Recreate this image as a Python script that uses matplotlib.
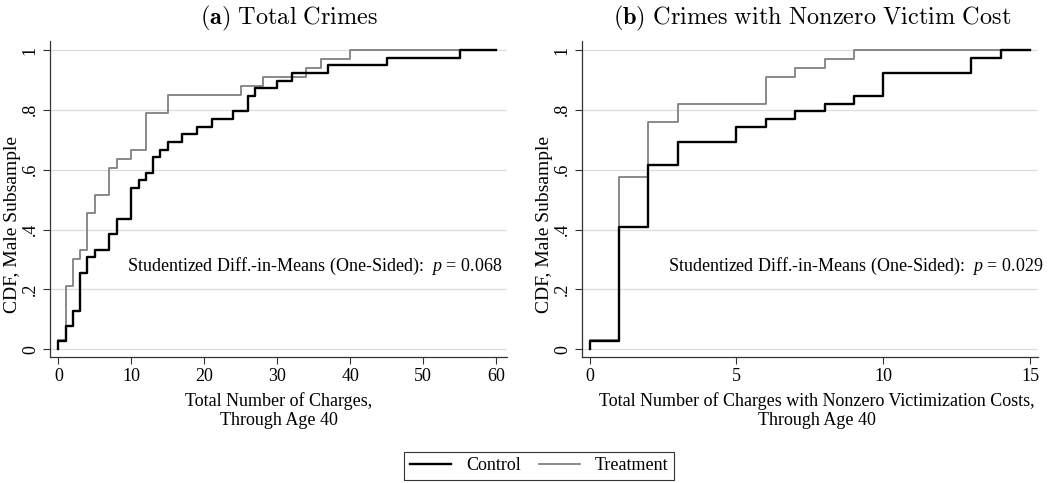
import numpy as np
import matplotlib.pyplot as plt
from matplotlib.lines import Line2D

plt.rcParams['font.family'] = ['Liberation Serif', 'DejaVu Serif']
plt.rcParams['mathtext.fontset'] = 'custom'
plt.rcParams['mathtext.rm'] = 'Liberation Serif'
plt.rcParams['mathtext.it'] = 'Liberation Serif:italic'

# panel (a): total crimes
ctrl_a_x = [0, 1, 2, 3, 4, 5, 7, 8, 10, 11, 12, 13, 14, 15, 17, 19, 21, 24, 26, 27, 30, 32, 37, 45, 55]
ctrl_a_cdf = [.026, .077, .128, .256, .308, .333, .385, .436, .538, .564, .590, .641, .667, .692,
              .718, .744, .769, .795, .846, .872, .897, .923, .949, .974, 1.0]
treat_a_x = [0, 1, 2, 3, 4, 5, 7, 8, 10, 12, 15, 25, 28, 34, 36, 40]
treat_a_cdf = [.030, .212, .303, .333, .455, .515, .606, .636, .667, .788, .848, .879, .909, .939, .970, 1.0]

# panel (b): crimes with nonzero victim cost
ctrl_b_x = [0, 1, 2, 3, 5, 6, 7, 8, 9, 10, 13, 14]
ctrl_b_cdf = [.026, .410, .615, .692, .744, .769, .795, .821, .846, .923, .974, 1.0]
treat_b_x = [0, 1, 2, 3, 6, 7, 8, 9]
treat_b_cdf = [.030, .576, .758, .818, .909, .939, .970, 1.0]

p_values = ['0.068', '0.029']
titles = [r'$\mathbf{(a)}\ \mathrm{Total\ Crimes}$',
          r'$\mathbf{(b)}\ \mathrm{Crimes\ with\ Nonzero\ Victim\ Cost}$']
xlabels = ['Total Number of Charges,\nThrough Age 40',
           'Total Number of Charges with Nonzero Victimization Costs,\nThrough Age 40']

CTRL_COLOR = '#000000'
TREAT_COLOR = '#808080'


def step_line(ax, xs, cdf, x_end, **kw):
    xx = np.concatenate([[xs[0]], xs, [x_end]])
    yy = np.concatenate([[0], cdf, [cdf[-1]]])
    ax.step(xx, yy, where='post', **kw)


fig = plt.figure(figsize=(10.5, 4.83), dpi=100)
ax1 = fig.add_axes([50 / 1050, 1 - 357 / 483, 457 / 1050, 316 / 483])
ax2 = fig.add_axes([582 / 1050, 1 - 357 / 483, 456 / 1050, 316 / 483])

panels = [
    (ax1, ctrl_a_x, ctrl_a_cdf, treat_a_x, treat_a_cdf, 60, (-1.14, 61.5), [0, 10, 20, 30, 40, 50, 60], 60.8, 0.5),
    (ax2, ctrl_b_x, ctrl_b_cdf, treat_b_x, treat_b_cdf, 15, (-0.26, 15.27), [0, 5, 10, 15], 15.45, 0.515),
]

for i, (ax, cx, cy, tx, ty, xend, xl, xt, text_x, xlab_x) in enumerate(panels):
    step_line(ax, tx, ty, xend, color=TREAT_COLOR, lw=1.3, zorder=3)
    step_line(ax, cx, cy, xend, color=CTRL_COLOR, lw=1.7, zorder=4)
    ax.set_xlim(*xl)
    ax.set_ylim(-0.026, 1.03)
    ax.set_xticks(xt)
    ax.set_yticks([0, .2, .4, .6, .8, 1])
    ax.set_yticklabels(['0', '.2', '.4', '.6', '.8', '1'], rotation=90, va='center')
    ax.yaxis.grid(True, color='#dcdcdc', lw=0.9)
    ax.set_axisbelow(True)
    for s in ['top', 'right']:
        ax.spines[s].set_visible(False)
    for s in ['left', 'bottom']:
        ax.spines[s].set_color('#333333')
        ax.spines[s].set_linewidth(0.9)
    ax.tick_params(direction='out', length=5, width=0.8, color='#333333', labelsize=13, pad=3)
    ax.set_xlabel(xlabels[i], fontsize=13, linespacing=1.15)
    ax.xaxis.set_label_coords(xlab_x, -0.11)
    ax.set_ylabel('CDF, Male Subsample', fontsize=14)
    ax.yaxis.set_label_coords(-0.064, 0.42)
    ax.text(text_x, 0.276,
            'Studentized Diff.-in-Means (One-Sided):  $p$ = ' + p_values[i],
            ha='right', va='center', fontsize=13, clip_on=False, zorder=5)

fig.text(289 / 1050, 1 - 18 / 483, titles[0], ha='center', va='center', fontsize=17.5, math_fontfamily='cm')
fig.text(812 / 1050, 1 - 18 / 483, titles[1], ha='center', va='center', fontsize=17.5, math_fontfamily='cm')

handles = [Line2D([], [], color=CTRL_COLOR, lw=1.7), Line2D([], [], color=TREAT_COLOR, lw=1.3)]
leg = fig.legend(handles, ['Control', 'Treatment'], loc='center', bbox_to_anchor=(539 / 1050, 1 - 466 / 483),
                 ncol=2, fontsize=13, frameon=True, fancybox=False, edgecolor='black',
                 handlelength=2.3, columnspacing=1.0, borderpad=0.3)
leg.get_frame().set_linewidth(0.8)

plt.savefig('out.png', dpi=100)
